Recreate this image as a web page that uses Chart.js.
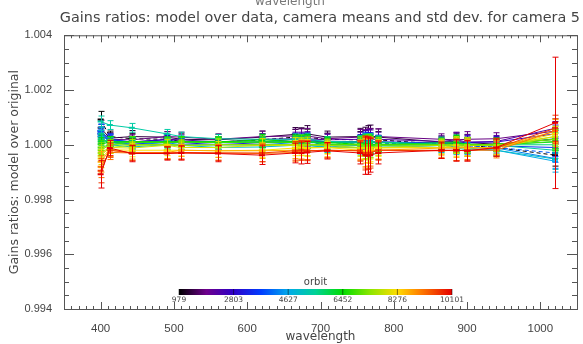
<!DOCTYPE html>
<html>
<head>
<meta charset="utf-8">
<script src="https://cdn.jsdelivr.net/npm/chart.js@4.4.1/dist/chart.umd.min.js"></script>
<style>
  body { margin: 0; background: #fff; }
</style>
</head>
<body>
<canvas id="gains-chart" width="583" height="344"></canvas>
<script>
// OLCI band centres (nm)
const wavelengths = [400, 412.5, 442.5, 490, 510, 560, 620, 665, 673.75, 681.25, 708.75,
  753.75, 761.25, 764.375, 767.5, 778.75, 865, 885, 900, 940, 1020];

const orbits = [979, 1400, 1830, 2250, 2803, 3170, 3560, 3950, 4300, 4627, 5000, 5380,
  5760, 6100, 6452, 6830, 7200, 7600, 7950, 8276, 8700, 9150, 9600, 10101];

// camera mean of model/data gain ratio, one row per orbit
const ratios = [
  [1.00092, 1.00030, 1.00022, 1.00020, 1.00012, 1.00010, 1.00018, 1.00028, 1.00030, 1.00027, 1.00020, 1.00018, 1.00012, 1.00016, 1.00020, 1.00018, 1.00002, 1.00000, 0.99998, 0.99990, 0.99962],
  [1.00062, 1.00024, 1.00030, 1.00028, 1.00020, 1.00018, 1.00028, 1.00038, 1.00034, 1.00040, 1.00028, 1.00030, 1.00026, 1.00030, 1.00032, 1.00028, 1.00010, 1.00012, 1.00008, 1.00002, 1.00020],
  [1.00050, 1.00020, 1.00018, 1.00030, 1.00028, 1.00020, 1.00030, 1.00032, 1.00030, 1.00032, 1.00022, 1.00028, 1.00020, 1.00022, 1.00024, 1.00030, 1.00020, 1.00018, 1.00020, 1.00022, 1.00050],
  [1.00040, 1.00012, 1.00010, 1.00020, 1.00018, 1.00010, 1.00020, 1.00022, 1.00020, 1.00022, 1.00018, 1.00020, 1.00018, 1.00020, 1.00020, 1.00020, 1.00012, 1.00018, 1.00010, 1.00012, 1.00060],
  [1.00030, 1.00018, 1.00010, 1.00018, 1.00010, 1.00008, 1.00010, 1.00020, 1.00018, 1.00020, 1.00010, 1.00012, 1.00010, 1.00010, 1.00012, 1.00010, 1.00008, 1.00010, 1.00008, 1.00010, 1.00040],
  [1.00042, 1.00010, 1.00002, 1.00010, 1.00008, 1.00000, 1.00008, 1.00012, 1.00010, 1.00016, 1.00008, 1.00010, 1.00008, 1.00010, 1.00008, 1.00010, 1.00000, 1.00006, 1.00000, 0.99998, 1.00022],
  [1.00050, 1.00020, 1.00010, 1.00010, 1.00012, 1.00008, 1.00010, 1.00010, 1.00012, 1.00010, 1.00008, 1.00010, 1.00016, 1.00010, 1.00012, 1.00010, 1.00006, 1.00000, 0.99998, 0.99996, 0.99990],
  [1.00040, 1.00018, 1.00008, 1.00010, 1.00008, 1.00010, 1.00008, 1.00010, 1.00008, 1.00010, 1.00000, 1.00008, 1.00010, 1.00006, 1.00008, 1.00006, 1.00000, 0.99998, 0.99996, 0.99990, 0.99970],
  [1.00052, 1.00010, 1.00000, 1.00008, 1.00000, 1.00002, 1.00000, 1.00008, 1.00002, 1.00000, 0.99998, 1.00000, 1.00002, 1.00000, 0.99998, 1.00000, 0.99998, 0.99992, 0.99990, 0.99988, 0.99950],
  [1.00040, 1.00008, 1.00000, 1.00000, 0.99998, 1.00000, 0.99998, 1.00000, 1.00000, 0.99998, 0.99992, 0.99998, 1.00000, 0.99998, 0.99996, 0.99998, 0.99990, 0.99990, 0.99988, 0.99980, 0.99940],
  [1.00030, 1.00000, 0.99992, 1.00000, 0.99998, 0.99990, 0.99992, 0.99998, 1.00000, 0.99998, 0.99990, 0.99990, 0.99992, 0.99990, 0.99990, 0.99992, 0.99990, 0.99988, 0.99982, 0.99980, 0.99948],
  [1.00085, 1.00072, 1.00062, 1.00040, 1.00030, 1.00022, 1.00020, 1.00020, 1.00018, 1.00020, 1.00012, 1.00010, 1.00012, 1.00010, 1.00012, 1.00010, 1.00002, 1.00000, 1.00000, 0.99998, 0.99980],
  [1.00020, 1.00012, 1.00010, 1.00012, 1.00010, 1.00008, 1.00010, 1.00012, 1.00010, 1.00010, 1.00008, 1.00010, 1.00008, 1.00010, 1.00010, 1.00008, 1.00002, 1.00000, 1.00002, 1.00000, 1.00000],
  [1.00012, 1.00010, 1.00008, 1.00010, 1.00010, 1.00012, 1.00010, 1.00010, 1.00008, 1.00010, 1.00002, 1.00000, 1.00002, 1.00000, 1.00002, 1.00000, 1.00008, 1.00010, 1.00002, 1.00000, 1.00010],
  [1.00002, 1.00010, 1.00012, 1.00010, 1.00012, 1.00010, 1.00018, 1.00012, 1.00010, 1.00012, 1.00008, 1.00002, 1.00000, 1.00002, 1.00000, 1.00002, 1.00000, 1.00008, 1.00000, 1.00002, 1.00020],
  [0.99990, 1.00000, 1.00010, 1.00008, 1.00010, 1.00008, 1.00010, 1.00008, 1.00010, 1.00000, 1.00002, 1.00000, 0.99998, 1.00000, 0.99998, 1.00000, 1.00000, 0.99998, 1.00000, 1.00000, 1.00012],
  [0.99980, 1.00000, 1.00000, 1.00002, 0.99998, 1.00000, 1.00002, 1.00000, 0.99998, 1.00000, 0.99998, 1.00000, 0.99996, 0.99998, 0.99990, 0.99998, 1.00000, 1.00000, 0.99998, 1.00000, 1.00020],
  [0.99970, 0.99990, 0.99998, 1.00000, 0.99998, 1.00000, 0.99998, 1.00000, 0.99998, 1.00000, 0.99998, 0.99990, 0.99990, 0.99988, 0.99990, 0.99990, 0.99998, 1.00000, 0.99998, 0.99998, 1.00030],
  [0.99960, 0.99990, 0.99988, 0.99998, 0.99990, 0.99990, 0.99998, 0.99998, 0.99990, 0.99990, 0.99990, 0.99988, 0.99988, 0.99986, 0.99988, 0.99990, 0.99990, 0.99998, 0.99990, 0.99990, 1.00030],
  [0.99950, 0.99982, 0.99980, 0.99980, 0.99980, 0.99978, 0.99980, 0.99988, 0.99990, 0.99988, 0.99990, 0.99980, 0.99978, 0.99980, 0.99980, 0.99988, 0.99990, 0.99990, 0.99988, 0.99990, 1.00040],
  [0.99938, 0.99980, 0.99972, 0.99972, 0.99980, 0.99978, 0.99978, 0.99980, 0.99980, 0.99978, 0.99980, 0.99978, 0.99970, 0.99972, 0.99978, 0.99980, 0.99988, 0.99988, 0.99990, 0.99988, 1.00050],
  [0.99920, 0.99972, 0.99970, 0.99970, 0.99970, 0.99970, 0.99968, 0.99972, 0.99978, 0.99980, 0.99978, 0.99980, 0.99970, 0.99968, 0.99972, 0.99980, 0.99980, 0.99978, 0.99980, 0.99980, 1.00050],
  [0.99905, 0.99980, 0.99970, 0.99970, 0.99972, 0.99970, 0.99970, 0.99978, 0.99980, 0.99978, 0.99980, 0.99978, 0.99968, 0.99970, 0.99970, 0.99980, 0.99978, 0.99980, 0.99978, 0.99988, 1.00060],
  [0.99892, 0.99988, 0.99968, 0.99968, 0.99970, 0.99968, 0.99962, 0.99970, 0.99970, 0.99972, 0.99978, 0.99970, 0.99962, 0.99960, 0.99962, 0.99970, 0.99980, 0.99980, 0.99978, 0.99990, 1.00080],
];

// camera std dev, same layout as ratios
const stdDevs = [
  [0.00030, 0.00020, 0.00020, 0.00018, 0.00018, 0.00020, 0.00022, 0.00028, 0.00030, 0.00030, 0.00022, 0.00030, 0.00040, 0.00040, 0.00038, 0.00030, 0.00022, 0.00030, 0.00030, 0.00028, 0.00040],
  [0.00028, 0.00020, 0.00022, 0.00020, 0.00020, 0.00020, 0.00022, 0.00025, 0.00028, 0.00030, 0.00022, 0.00030, 0.00038, 0.00040, 0.00040, 0.00030, 0.00022, 0.00030, 0.00030, 0.00025, 0.00040],
  [0.00025, 0.00020, 0.00020, 0.00018, 0.00018, 0.00020, 0.00020, 0.00025, 0.00028, 0.00028, 0.00020, 0.00028, 0.00035, 0.00036, 0.00036, 0.00028, 0.00020, 0.00028, 0.00028, 0.00022, 0.00035],
  [0.00025, 0.00018, 0.00018, 0.00018, 0.00018, 0.00018, 0.00020, 0.00024, 0.00026, 0.00026, 0.00020, 0.00026, 0.00034, 0.00035, 0.00034, 0.00026, 0.00020, 0.00026, 0.00026, 0.00022, 0.00035],
  [0.00024, 0.00018, 0.00018, 0.00016, 0.00016, 0.00018, 0.00020, 0.00022, 0.00024, 0.00024, 0.00018, 0.00025, 0.00032, 0.00034, 0.00032, 0.00025, 0.00020, 0.00026, 0.00025, 0.00020, 0.00032],
  [0.00022, 0.00018, 0.00016, 0.00016, 0.00016, 0.00018, 0.00018, 0.00022, 0.00024, 0.00024, 0.00018, 0.00024, 0.00030, 0.00032, 0.00030, 0.00024, 0.00018, 0.00025, 0.00024, 0.00020, 0.00030],
  [0.00024, 0.00020, 0.00018, 0.00016, 0.00018, 0.00018, 0.00020, 0.00022, 0.00022, 0.00024, 0.00018, 0.00024, 0.00030, 0.00030, 0.00030, 0.00024, 0.00018, 0.00024, 0.00024, 0.00020, 0.00032],
  [0.00022, 0.00018, 0.00018, 0.00016, 0.00016, 0.00018, 0.00018, 0.00020, 0.00022, 0.00022, 0.00018, 0.00022, 0.00028, 0.00030, 0.00028, 0.00022, 0.00018, 0.00024, 0.00022, 0.00020, 0.00034],
  [0.00024, 0.00018, 0.00018, 0.00016, 0.00016, 0.00018, 0.00020, 0.00022, 0.00024, 0.00022, 0.00018, 0.00024, 0.00030, 0.00030, 0.00030, 0.00024, 0.00020, 0.00024, 0.00024, 0.00022, 0.00036],
  [0.00022, 0.00018, 0.00016, 0.00016, 0.00016, 0.00018, 0.00018, 0.00020, 0.00022, 0.00022, 0.00018, 0.00022, 0.00028, 0.00030, 0.00028, 0.00022, 0.00018, 0.00022, 0.00022, 0.00020, 0.00040],
  [0.00022, 0.00018, 0.00018, 0.00016, 0.00016, 0.00018, 0.00020, 0.00022, 0.00022, 0.00022, 0.00018, 0.00024, 0.00030, 0.00030, 0.00028, 0.00024, 0.00020, 0.00024, 0.00024, 0.00022, 0.00038],
  [0.00020, 0.00016, 0.00016, 0.00016, 0.00016, 0.00016, 0.00018, 0.00020, 0.00020, 0.00022, 0.00018, 0.00022, 0.00028, 0.00028, 0.00028, 0.00022, 0.00018, 0.00022, 0.00022, 0.00020, 0.00030],
  [0.00022, 0.00018, 0.00018, 0.00016, 0.00016, 0.00018, 0.00018, 0.00022, 0.00022, 0.00024, 0.00018, 0.00024, 0.00030, 0.00030, 0.00030, 0.00024, 0.00018, 0.00024, 0.00022, 0.00020, 0.00030],
  [0.00024, 0.00018, 0.00018, 0.00018, 0.00016, 0.00018, 0.00020, 0.00022, 0.00024, 0.00024, 0.00018, 0.00024, 0.00032, 0.00032, 0.00030, 0.00024, 0.00020, 0.00026, 0.00024, 0.00022, 0.00032],
  [0.00024, 0.00020, 0.00018, 0.00018, 0.00018, 0.00018, 0.00020, 0.00024, 0.00024, 0.00026, 0.00020, 0.00026, 0.00034, 0.00034, 0.00032, 0.00026, 0.00020, 0.00026, 0.00026, 0.00022, 0.00034],
  [0.00026, 0.00020, 0.00020, 0.00018, 0.00018, 0.00020, 0.00022, 0.00024, 0.00026, 0.00026, 0.00020, 0.00028, 0.00036, 0.00036, 0.00034, 0.00026, 0.00020, 0.00028, 0.00026, 0.00022, 0.00034],
  [0.00028, 0.00020, 0.00020, 0.00018, 0.00018, 0.00020, 0.00022, 0.00026, 0.00026, 0.00028, 0.00020, 0.00028, 0.00038, 0.00038, 0.00036, 0.00028, 0.00022, 0.00028, 0.00028, 0.00024, 0.00036],
  [0.00030, 0.00022, 0.00022, 0.00020, 0.00020, 0.00022, 0.00024, 0.00026, 0.00028, 0.00028, 0.00022, 0.00030, 0.00040, 0.00040, 0.00038, 0.00028, 0.00022, 0.00030, 0.00028, 0.00024, 0.00036],
  [0.00032, 0.00022, 0.00022, 0.00020, 0.00020, 0.00022, 0.00024, 0.00028, 0.00028, 0.00030, 0.00022, 0.00030, 0.00042, 0.00042, 0.00040, 0.00030, 0.00024, 0.00030, 0.00030, 0.00024, 0.00038],
  [0.00034, 0.00024, 0.00024, 0.00020, 0.00022, 0.00024, 0.00026, 0.00028, 0.00030, 0.00030, 0.00024, 0.00032, 0.00045, 0.00045, 0.00042, 0.00030, 0.00024, 0.00032, 0.00030, 0.00026, 0.00040],
  [0.00038, 0.00024, 0.00024, 0.00022, 0.00022, 0.00024, 0.00028, 0.00030, 0.00032, 0.00032, 0.00024, 0.00034, 0.00050, 0.00050, 0.00046, 0.00032, 0.00026, 0.00034, 0.00032, 0.00026, 0.00042],
  [0.00040, 0.00026, 0.00026, 0.00022, 0.00024, 0.00026, 0.00030, 0.00032, 0.00034, 0.00034, 0.00026, 0.00036, 0.00055, 0.00055, 0.00050, 0.00034, 0.00026, 0.00036, 0.00034, 0.00028, 0.00045],
  [0.00044, 0.00026, 0.00028, 0.00024, 0.00024, 0.00028, 0.00032, 0.00034, 0.00036, 0.00036, 0.00028, 0.00038, 0.00060, 0.00060, 0.00055, 0.00036, 0.00028, 0.00038, 0.00036, 0.00030, 0.00048],
  [0.00050, 0.00028, 0.00030, 0.00024, 0.00026, 0.00030, 0.00034, 0.00036, 0.00040, 0.00040, 0.00030, 0.00040, 0.00070, 0.00068, 0.00062, 0.00040, 0.00030, 0.00040, 0.00038, 0.00032, 0.00240],
];

const xTicks = [400, 500, 600, 700, 800, 900, 1000];
const yTicks = [0.994, 0.996, 0.998, 1.000, 1.002, 1.004];
const cbarTicks = [979, 2803, 4627, 6452, 8276, 10101];

const dashedOrbits = [979, 3950];

// rainbow colour table, black -> red
const rainbowStops = [
  [0.00, [0, 0, 0]],
  [0.10, [110, 0, 140]],
  [0.20, [45, 0, 200]],
  [0.30, [0, 60, 255]],
  [0.40, [0, 170, 235]],
  [0.50, [0, 210, 150]],
  [0.60, [0, 220, 0]],
  [0.70, [140, 230, 0]],
  [0.80, [255, 220, 0]],
  [0.88, [255, 130, 0]],
  [1.00, [230, 0, 0]],
];

const rainbowAt = (t) => {
  t = Math.min(1, Math.max(0, t));
  let i = 1;
  while (i < rainbowStops.length - 1 && rainbowStops[i][0] < t) i++;
  const [t0, c0] = rainbowStops[i - 1];
  const [t1, c1] = rainbowStops[i];
  const f = (t - t0) / (t1 - t0);
  const c = c0.map((v, k) => Math.round(v + (c1[k] - v) * f));
  return `rgb(${c[0]}, ${c[1]}, ${c[2]})`;
};

const orbitMin = cbarTicks[0];
const orbitMax = cbarTicks[cbarTicks.length - 1];
const orbitColor = (orbit) => rainbowAt((orbit - orbitMin) / (orbitMax - orbitMin));

const axisColor = '#555';
const font = 'Liberation Sans';
const wideFont = 'DejaVu Sans';

// vertical error bars with caps, drawn right after each dataset
const errorBars = {
  id: 'errorBars',
  afterDatasetDraw(chart, args) {
    const { ctx } = chart;
    const y = chart.scales.y;
    const ds = chart.data.datasets[args.index];
    ctx.save();
    ctx.strokeStyle = ds.borderColor;
    ctx.lineWidth = 1;
    ctx.beginPath();
    args.meta.data.forEach((pt, j) => {
      const v = ds.data[j].y;
      const s = ds.stdDev[j];
      const px = Math.round(pt.x) + 0.5;
      const top = y.getPixelForValue(v + s);
      const bot = y.getPixelForValue(v - s);
      ctx.moveTo(px, top); ctx.lineTo(px, bot);
      ctx.moveTo(px - 3, top); ctx.lineTo(px + 3, top);
      ctx.moveTo(px - 3, bot); ctx.lineTo(px + 3, bot);
    });
    ctx.stroke();
    ctx.restore();
  }
};

// box axes with inward ticks, colour bar, clipped top label
const idlFrame = {
  id: 'idlFrame',
  afterDraw(chart) {
    const { ctx, chartArea: a } = chart;
    const { x, y } = chart.scales;
    ctx.save();
    ctx.strokeStyle = axisColor;
    ctx.lineWidth = 1;
    ctx.strokeRect(a.left + 0.5, a.top + 0.5, a.right - a.left, a.bottom - a.top);

    ctx.beginPath();
    for (let w = 350; w <= 1050; w += 10) {
      const px = Math.round(x.getPixelForValue(w)) + 0.5;
      const len = w % 100 === 0 ? 7 : 3;
      ctx.moveTo(px, a.bottom); ctx.lineTo(px, a.bottom - len);
      ctx.moveTo(px, a.top); ctx.lineTo(px, a.top + len);
    }
    for (let k = 0; k <= 20; k++) {
      const py = Math.round(y.getPixelForValue(0.994 + k * 0.0005)) + 0.5;
      const len = k % 4 === 0 ? 10 : 5;
      ctx.moveTo(a.left, py); ctx.lineTo(a.left + len, py);
      ctx.moveTo(a.right, py); ctx.lineTo(a.right - len, py);
    }
    ctx.stroke();

    // colour bar
    const cb = { left: 179, right: 452, top: 289, bottom: 295 };
    const grad = ctx.createLinearGradient(cb.left, 0, cb.right, 0);
    rainbowStops.forEach(([t]) => grad.addColorStop(t, rainbowAt(t)));
    ctx.fillStyle = grad;
    ctx.fillRect(cb.left, cb.top, cb.right - cb.left, cb.bottom - cb.top);

    ctx.fillStyle = '#444';
    ctx.textAlign = 'center';
    ctx.textBaseline = 'middle';
    ctx.font = `10px "${wideFont}"`;
    ctx.fillText('orbit', (cb.left + cb.right) / 2, 282);
    ctx.font = `7.5px "${wideFont}"`;
    ctx.strokeStyle = 'rgba(0,0,0,0.5)';
    ctx.beginPath();
    cbarTicks.forEach((o) => {
      const px = cb.left + (o - orbitMin) / (orbitMax - orbitMin) * (cb.right - cb.left);
      ctx.fillText(String(o), px, 300);
      ctx.moveTo(px, cb.top); ctx.lineTo(px, cb.bottom);
    });
    ctx.stroke();

    // leftover axis title from the panel above, clipped by the page top
    ctx.fillStyle = '#777';
    ctx.font = `12px "${wideFont}"`;
    ctx.textBaseline = 'alphabetic';
    ctx.fillText('wavelength', 290, 5);
    ctx.restore();
  }
};

const datasets = orbits.map((orbit, i) => {
  const color = orbitColor(orbit);
  return {
    label: `orbit ${orbit}`,
    data: wavelengths.map((w, j) => ({ x: w, y: ratios[i][j] })),
    stdDev: stdDevs[i],
    borderColor: color,
    backgroundColor: color,
    borderWidth: 1,
    borderDash: dashedOrbits.includes(orbit) ? [4, 3] : [],
    pointStyle: 'line',
    pointRadius: 3,
    pointBorderWidth: 2,
    pointBorderColor: color,
    tension: 0,
    order: orbits.length - i,
  };
});

new Chart(document.querySelector('#gains-chart'), {
  type: 'line',
  data: { datasets },
  plugins: [errorBars, idlFrame],
  options: {
    responsive: false,
    animation: false,
    devicePixelRatio: 1,
    layout: { padding: { left: 0, right: 3, top: 0, bottom: 0 } },
    plugins: {
      legend: { display: false },
      tooltip: { enabled: false },
      title: {
        display: true,
        text: 'Gains ratios: model over data, camera means and std dev. for camera 5',
        align: 'end',
        color: '#444',
        font: { family: wideFont, size: 14.4, weight: 'normal' },
        padding: { top: 10, bottom: 8 },
      },
    },
    scales: {
      x: {
        type: 'linear',
        min: 350,
        max: 1050,
        afterBuildTicks: (s) => { s.ticks = xTicks.map((v) => ({ value: v })); },
        afterFit: (s) => { s.height = 35; },
        grid: { display: false },
        border: { color: axisColor },
        ticks: { color: '#444', font: { family: font, size: 11.5 }, padding: 5, maxRotation: 0, callback: (v) => String(v) },
        title: { display: true, text: 'wavelength', color: '#444', font: { family: wideFont, size: 12 }, padding: 0 },
      },
      y: {
        min: 0.994,
        max: 1.004,
        afterBuildTicks: (s) => { s.ticks = yTicks.map((v) => ({ value: v })); },
        afterFit: (s) => { s.width = 64; },
        grid: { display: false },
        border: { color: axisColor },
        ticks: { color: '#444', font: { family: font, size: 11 }, padding: 4, callback: (v) => v.toFixed(3) },
        title: { display: true, text: 'Gains ratios: model over original', color: '#444', font: { family: wideFont, size: 12.5 }, padding: { top: 7 } },
      },
    },
  },
});
</script>
</body>
</html>
